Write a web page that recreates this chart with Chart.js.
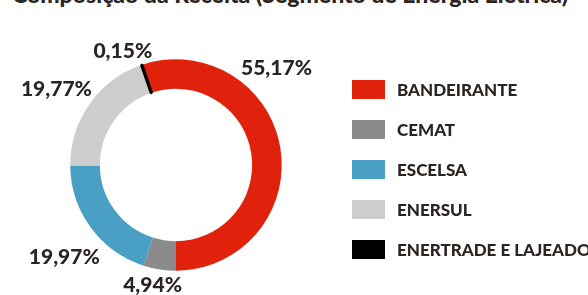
<!DOCTYPE html>
<html>
<head>
<meta charset="utf-8">
<script src="https://cdn.jsdelivr.net/npm/chart.js@4.4.0/dist/chart.umd.min.js"></script>
<style>
    body { margin: 0; width: 588px; height: 295px; overflow: hidden; background: #fff; position: relative; font-family: Lato, sans-serif; color: #2b2522; }
    #title { position: absolute; left: 12px; top: -20px; font-weight: 900; font-size: 23px; white-space: nowrap; }
    #chart { position: absolute; left: 0; top: 0; }
    #legend { position: absolute; left: 352px; top: 80px; }
    .item { display: flex; align-items: center; height: 19px; margin-bottom: 21px; white-space: nowrap; font-weight: 900; font-size: 17px; }
    .box { width: 33px; height: 19px; margin-right: 12px; flex: none; }
</style>
</head>
<body>
<div id="title">Composição da Receita (Segmento de Energia Elétrica)</div>
<canvas id="chart" width="588" height="295"></canvas>
<div id="legend"></div>
<script>
const companies = ['BANDEIRANTE', 'CEMAT', 'ESCELSA', 'ENERSUL', 'ENERTRADE E LAJEADO'];
const shares = [55.17, 4.94, 19.97, 19.77, 0.15];
const sliceColors = ['#e0220c', '#8b8b8b', '#4a9fc5', '#cdcdcd', '#000000'];

document.addEventListener('DOMContentLoaded', function() {
    // hand placed labels: angle (deg, clockwise from top) and distance past the ring
    const labelSpots = [[46, 34], [191, 17], [230.5, 39], [302.5, 36], [335, 20]];

    const outsideLabels = {
        id: 'outsideLabels',
        afterDraw(chart) {
            const ctx = chart.ctx;
            const arcs = chart.getDatasetMeta(0).data;
            ctx.save();
            ctx.font = '900 21px Lato';
            ctx.fillStyle = '#2b2522';
            ctx.textAlign = 'center';
            ctx.textBaseline = 'middle';
            arcs.forEach((arc, i) => {
                const a = labelSpots[i][0] * Math.PI / 180;
                const r = arc.outerRadius + labelSpots[i][1];
                const text = shares[i].toFixed(2).replace('.', ',') + '%';
                ctx.fillText(text, arc.x + r * Math.sin(a), arc.y - r * Math.cos(a));
            });
            ctx.restore();
        }
    };

    const ctx = document.getElementById('chart').getContext('2d');
    const revenueChart = new Chart(ctx, {
        type: 'doughnut',
        data: {
            labels: companies,
            datasets: [{
                data: shares,
                backgroundColor: sliceColors,
                borderColor: '#000000',
                borderWidth: [0, 0, 0, 0, 2.5],
                hoverOffset: 0
            }]
        },
        options: {
            responsive: false,
            animation: false,
            cutout: '72%',
            rotation: 180 - shares[0] * 3.6,
            layout: { padding: { left: 69, top: 58, right: 305, bottom: 23 } },
            plugins: {
                legend: { display: false },
                tooltip: { enabled: false }
            }
        },
        plugins: [outsideLabels]
    });

    const legend = document.getElementById('legend');
    companies.forEach((name, i) => {
        const row = document.createElement('div');
        row.className = 'item';
        row.innerHTML = '<span class="box" style="background:' + sliceColors[i] + '"></span>' + name;
        legend.appendChild(row);
    });
});
</script>
</body>
</html>
